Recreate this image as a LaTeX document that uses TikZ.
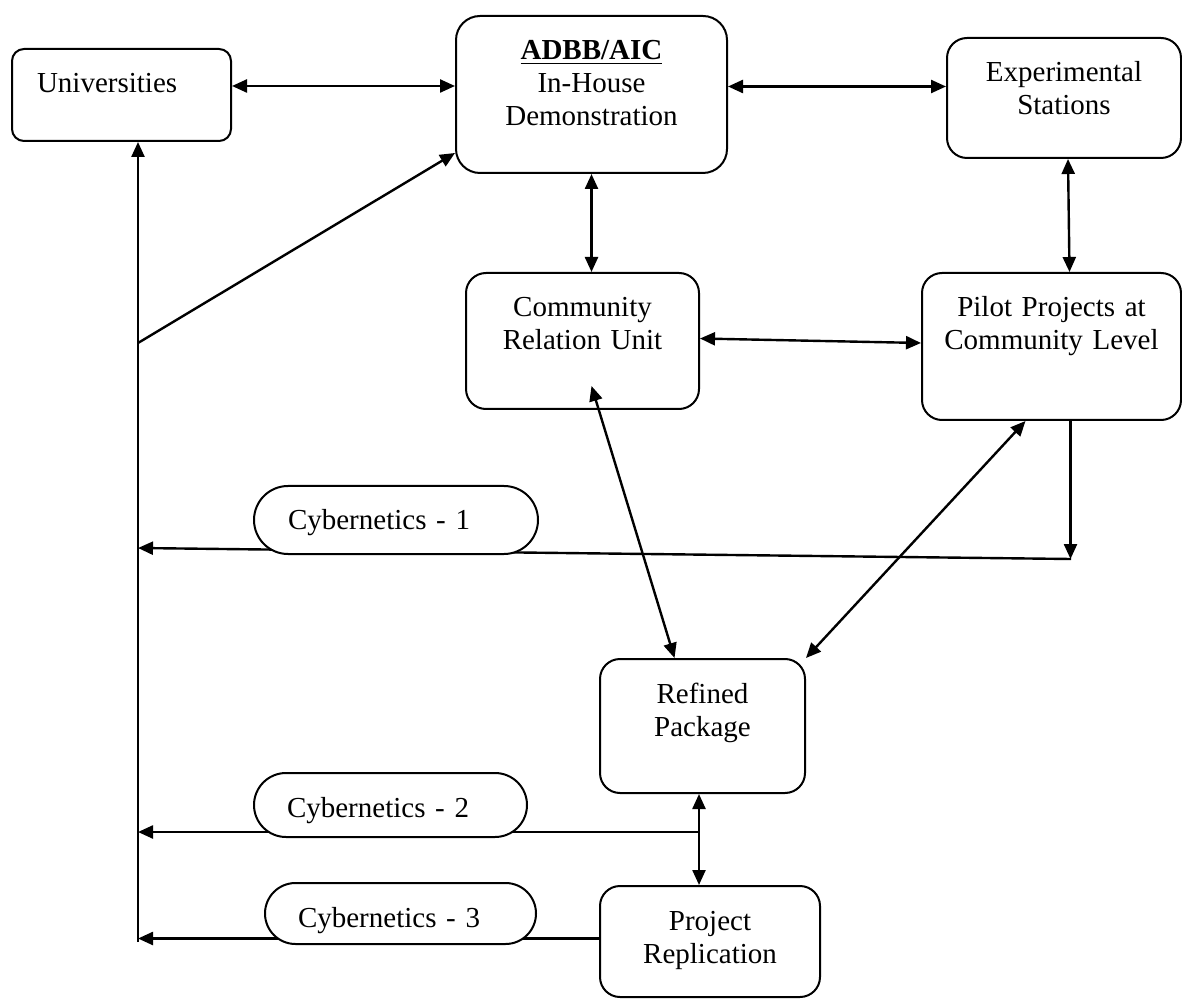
\documentclass[tikz,border=0pt]{standalone}
\usepackage{fontspec}
\setmainfont{Liberation Serif}
\usepackage{tikz}
\usetikzlibrary{arrows.meta,shapes.misc}
\tikzstyle{edge}=[line width=1.2pt,
                  >={Triangle[length=7.5pt,width=6.5pt]}]
\tikzstyle{unit}=[draw, fill=white, rounded corners=10pt,
                  line width=1pt, anchor=north, align=center,
                  inner xsep=4pt, inner ysep=0pt, text height=22pt,
                  font=\fontsize{14.5}{16.5}\selectfont]
\tikzstyle{feedback}=[unit, rounded rectangle, rounded corners=0pt,
                      align=left, inner xsep=0pt]

\begin{document}
\begin{tikzpicture}[x=0.5pt,y=-0.5pt]
   \useasboundingbox (0,0) rectangle (1182,999);

   \node (uni) at (121.5,48) [unit, rounded corners=6pt, align=left,
        inner xsep=12.5pt, text width=84.5pt, text depth=24pt] {Universities};
   \node (adbb) at (591.5,15) [unit, rounded corners=12pt,
        text width=127.5pt, text depth=56.5pt]
        {\underline{\textbf{ADBB/AIC}}\\In-House\\Demonstration};
   \node (exp) at (1064,37) [unit, text width=109pt, text depth=38pt]
        {Experimental\\Stations};
   \node (cru) at (582.5,272) [unit, text width=108.5pt, text depth=46pt]
        {Community\\Relation Unit};
   \node (pilot) at (1051.5,272) [unit, text width=121.5pt, text depth=51.5pt]
        {Pilot Projects at\\Community Level};
   \node (refined) at (702.5,658) [unit, text width=94.5pt, text depth=45pt]
        {Refined\\Package};
   \node (repl) at (710,885) [unit, text width=102pt, text depth=33.5pt]
        {Project\\Replication};

   \coordinate (trunk) at (138,942);
   \coordinate (fork) at (138,343);
   \coordinate (c1r) at (1071,559);
   \coordinate (c1l) at (138,548);
   \coordinate (c2r) at (699,832);

   \draw [edge, <->] ([yshift=4.5pt]uni.east) -- ([yshift=4.5pt]uni.east -| adbb.west);
   \draw [edge, <->] ([yshift=4pt]adbb.east) -- ([yshift=4pt]adbb.east -| exp.west);
   \draw [edge, <->] (adbb.south) -- (adbb.south |- cru.north);
   \draw [edge, <->] ([xshift=2pt]exp.south) -- ([xshift=9pt]pilot.north);
   \draw [edge, <->] ([yshift=1.25pt]cru.east) -- ([yshift=1.75pt]pilot.west);
   \draw [edge, <->] ([shift={(4.5pt,12pt)}]cru.south) -- ([xshift=-14pt]refined.north);
   \draw [edge, <->] ([xshift=-13pt]pilot.south) -- (refined.north east);
   \draw [edge, <->] ([xshift=-1.75pt]refined.south)
                  -- ([xshift=-1.75pt]refined.south |- repl.north);

   \draw [edge, ->] (trunk) -- (trunk |- uni.south);
   \draw [edge, ->] (fork) -- ([yshift=10.5pt]adbb.south west);
   \draw [edge, ->] ([xshift=9.5pt]pilot.south) -- ([xshift=9.5pt]pilot.south |- c1r);
   \draw [edge, ->] (c1r) -- (c1l);
   \draw [edge, ->] (c2r) -- (c2r -| trunk);
   \draw [edge, ->] ([yshift=1.5pt]repl.west) -- ([yshift=1.5pt]repl.west -| trunk);

   \node (cyb1) at (396,485) [feedback, minimum width=141pt,
        text width=108pt, text depth=12pt] {Cybernetics - 1};
   \node (cyb2) at (390.5,772) [feedback, minimum width=136.5pt,
        text width=103.5pt, text depth=10pt] {Cybernetics - 2};
   \node (cyb3) at (400.5,882) [feedback, minimum width=135.5pt,
        text width=102.5pt, text depth=8.5pt] {Cybernetics - 3};
\end{tikzpicture}
\end{document}
